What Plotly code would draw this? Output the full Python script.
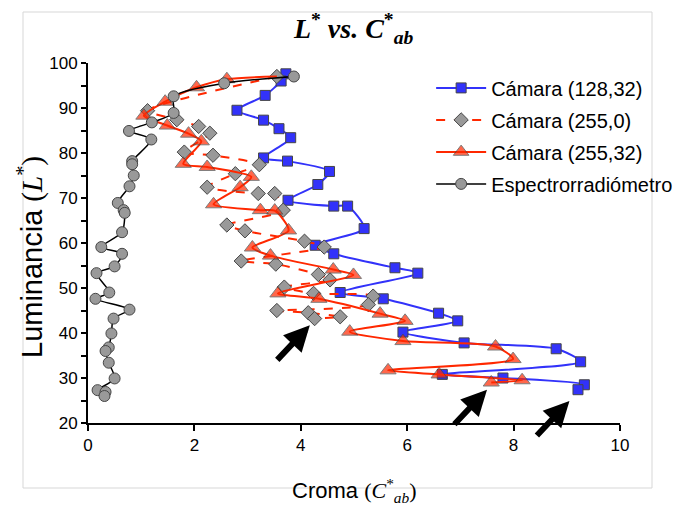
import plotly.graph_objects as go

# Chroma (C*ab) and lightness (L*) readings for each device
camara_128_32_c = [3.72, 3.63, 3.33, 2.80, 3.30, 3.59, 3.81, 3.30, 3.75, 4.54, 4.32, 3.76, 4.62, 4.88,
                   5.19, 4.27, 4.62, 5.77, 6.20, 4.74, 5.55, 6.59, 6.95, 5.92, 7.07, 8.80, 9.26, 6.66,
                   7.80, 9.33, 9.21]
camara_128_32_l = [97.6, 96.0, 92.8, 89.5, 87.3, 85.4, 83.4, 78.9, 78.2, 75.9, 73.0, 69.5, 68.2, 68.2,
                   63.2, 59.5, 57.6, 54.5, 53.3, 49.0, 47.6, 44.4, 42.7, 40.2, 37.8, 36.5, 33.6, 30.8,
                   30.0, 28.5, 27.4]

camara_255_0_c = [3.55, 1.12, 1.67, 2.08, 2.29, 1.81, 2.35, 3.22, 2.77, 2.24, 3.20, 3.51, 3.67, 2.61,
                  2.95, 4.07, 4.44, 2.88, 3.53, 4.33, 4.55, 3.69, 4.24, 5.36, 5.27, 3.55, 4.14, 4.74,
                  4.26]
camara_255_0_l = [97.0, 89.4, 87.4, 85.9, 84.4, 80.2, 79.5, 77.4, 75.4, 72.4, 71.0, 71.0, 67.3, 64.0,
                  62.7, 60.4, 59.1, 56.0, 55.3, 53.0, 51.8, 50.2, 48.8, 48.2, 46.3, 45.0, 44.5, 43.6,
                  43.2]

camara_255_32_c = [3.55, 2.61, 2.04, 1.45, 1.05, 1.49, 1.89, 2.13, 1.79, 2.24, 3.07, 2.86, 2.36, 3.24,
                   3.51, 3.77, 3.09, 3.43, 4.61, 4.99, 3.57, 4.34, 5.49, 5.96, 4.92, 5.92, 7.66, 7.99,
                   5.64, 6.60, 8.16, 7.58]
camara_255_32_l = [97.0, 96.4, 94.6, 91.4, 88.3, 86.1, 84.3, 82.6, 77.6, 76.9, 74.7, 72.4, 68.6, 67.3,
                   67.2, 62.8, 59.0, 57.2, 54.1, 52.9, 48.8, 47.6, 44.3, 42.7, 40.3, 38.2, 37.0, 34.2,
                   31.7, 30.8, 29.5, 29.0]

espectro_c = [3.87, 2.56, 1.61, 1.61, 1.20, 0.77, 1.19, 0.83, 0.83, 0.86, 0.78, 0.56, 0.67, 0.69,
              0.64, 0.25, 0.64, 0.50, 0.16, 0.40, 0.14, 0.78, 0.48, 0.44, 0.39, 0.33, 0.39, 0.50,
              0.18, 0.33, 0.31]
espectro_l = [97.0, 95.5, 92.6, 88.9, 86.8, 84.9, 83.0, 78.2, 77.5, 75.0, 72.6, 68.9, 67.3, 66.7,
              62.4, 59.1, 57.6, 54.8, 53.3, 49.0, 47.6, 45.2, 43.2, 39.9, 36.8, 36.0, 33.4, 29.9,
              27.3, 26.9, 26.0]

# Points marked with arrows (C*ab, L*)
flechas = [(4.17, 41.7), (7.50, 27.4), (9.05, 24.9)]

BLUE = "rgb(50,50,250)"
RED = "rgb(255,40,0)"
GRAY = "rgb(153,153,153)"
EDGE = "rgb(70,70,70)"

fig = go.Figure()

fig.add_trace(go.Scatter(
    x=camara_128_32_c, y=camara_128_32_l, name="Cámara (128,32)", legendgroup="a",
    mode="lines+markers", line=dict(color=BLUE, width=2, shape="spline", smoothing=0.7),
    marker=dict(symbol="square", size=10, color=BLUE, line=dict(color=EDGE, width=1)),
))
fig.add_trace(go.Scatter(
    x=camara_255_0_c, y=camara_255_0_l, name="Cámara (255,0)", legendgroup="b",
    mode="lines+markers", line=dict(color=RED, width=2, dash="dash", shape="spline", smoothing=0.7),
    marker=dict(symbol="diamond", size=11, color=GRAY, line=dict(color=EDGE, width=1)),
))
tri_sizes = [0] + [14] * (len(camara_255_32_c) - 1)
fig.add_trace(go.Scatter(
    x=camara_255_32_c, y=camara_255_32_l, name="Cámara (255,32)", legendgroup="c",
    mode="lines+markers", line=dict(color=RED, width=2, shape="spline", smoothing=0.7),
    marker=dict(symbol="triangle-up", size=tri_sizes, color=RED, line=dict(color=EDGE, width=1)),
))
fig.add_trace(go.Scatter(
    x=espectro_c, y=espectro_l, name="Espectrorradiómetro", legendgroup="d",
    mode="lines+markers", line=dict(color="black", width=1.5, shape="spline", smoothing=0.7),
    marker=dict(symbol="circle", size=11, color=GRAY, line=dict(color=EDGE, width=1)),
))

for cx, ly in flechas:
    fig.add_annotation(x=cx, y=ly, ax=-34, ay=36, text="", showarrow=True,
                       arrowhead=2, arrowsize=0.85, arrowwidth=6, arrowcolor="black")

tick_font = dict(family="Liberation Sans, Arial", size=17, color="black")

# axis titles, placed as annotations in pixel-derived paper positions
fig.add_annotation(
    xref="paper", yref="paper", x=(30 - 88) / 532, y=(423 - 257) / 360,
    xanchor="center", yanchor="middle", textangle=-90, showarrow=False,
    text="Luminancia <span style='font-family:Liberation Serif'>(<i>L</i><sup>*</sup>)</span>",
    font=dict(family="Liberation Sans, Arial", size=29, color="black"),
)
fig.add_annotation(
    xref="paper", yref="paper", x=0.5, y=(423 - 490) / 360,
    xanchor="center", yanchor="middle", showarrow=False,
    text="Croma <span style='font-family:Liberation Serif'>(<i>C</i><sup>*</sup><sub><i>ab</i></sub>)</span>",
    font=dict(family="Liberation Sans, Arial", size=22, color="black"),
)

fig.update_layout(
    width=680, height=506,
    margin=dict(l=88, r=60, t=63, b=83, autoexpand=False),
    paper_bgcolor="white", plot_bgcolor="white",
    title=dict(
        text="<b><i>L</i><sup>*</sup><i> vs. C</i><sup>*</sup><sub><i>ab</i></sub></b>",
        font=dict(family="Liberation Serif, Times New Roman", size=28, color="black"),
        x=0.52, xanchor="center", y=0.944, yanchor="middle",
    ),
    xaxis=dict(
        range=[0, 10], dtick=2, tick0=0, showgrid=False, zeroline=False, automargin=False,
        showline=True, linecolor="black", linewidth=2,
        ticks="outside", ticklen=6, tickwidth=2, tickcolor="black",
        tickfont=tick_font,
    ),
    yaxis=dict(
        range=[20, 100], dtick=10, tick0=0, showgrid=False, zeroline=False, automargin=False,
        showline=True, linecolor="black", linewidth=2,
        ticks="outside", ticklen=5, tickwidth=2, tickcolor="black",
        minor=dict(dtick=5, ticks="outside", ticklen=5, tickwidth=2, tickcolor="black"),
        tickfont=tick_font,
    ),
    yaxis2=dict(
        range=[20, 100], overlaying="y", side="left", dtick=5, tick0=0, automargin=False,
        showgrid=False, zeroline=False, showline=False, showticklabels=False,
        ticks="inside", ticklen=5, tickwidth=2, tickcolor="black",
    ),
    legend=dict(
        x=0.645, y=0.985, xanchor="left", yanchor="top", itemwidth=50,
        bgcolor="rgba(0,0,0,0)", traceorder="grouped", tracegroupgap=3,
        font=dict(family="Liberation Sans, Arial", size=20, color="black"),
    ),
    showlegend=True,
)

# outer chart-area border
fig.add_shape(type="rect", xref="paper", yref="paper",
              x0=(23 - 88) / 532, x1=(652 - 88) / 532,
              y0=(423 - 488) / 360, y1=(423 - 12) / 360,
              line=dict(color="rgb(215,215,215)", width=1), layer="below")

fig.write_html("out.html")
